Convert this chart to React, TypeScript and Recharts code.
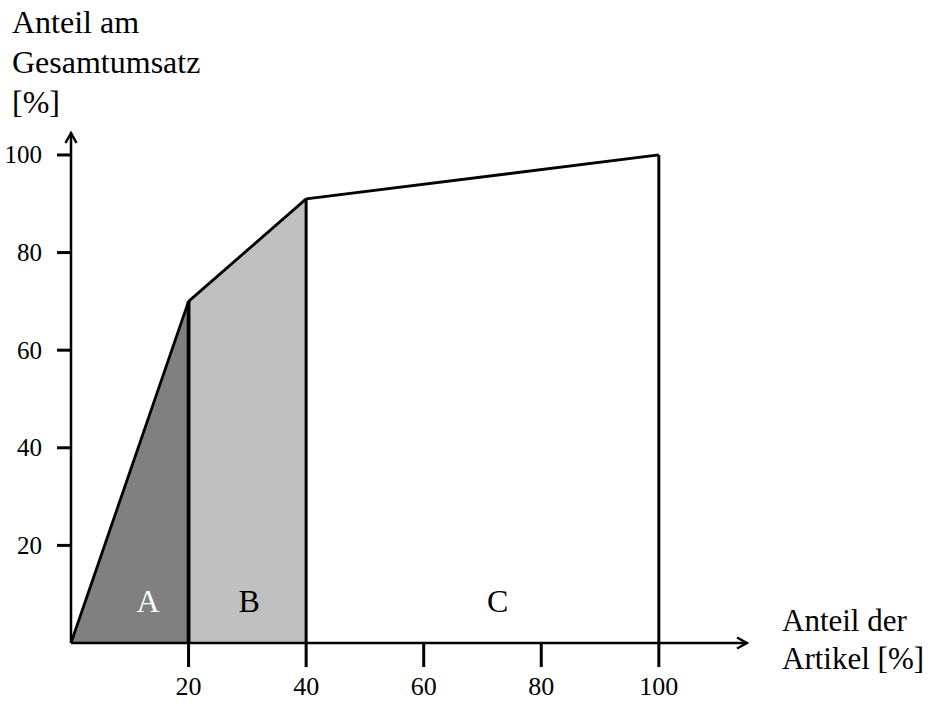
import {
  Area,
  ComposedChart,
  ReferenceDot,
  ReferenceLine,
  XAxis,
  YAxis,
} from "recharts";

// cumulative ABC curve
const SHARE_ARTICLES = [0, 20, 40, 100];
const SHARE_REVENUE = [0, 70, 91, 100];
const CLASSES = ["A", "B", "C"];
const CLASS_FILLS = ["#808080", "#c0c0c0", "#ffffff"];
const CLASS_TEXT = ["#ffffff", "#000000", "#000000"];
const X_TICKS = [20, 40, 60, 80, 100];
const Y_TICKS = [20, 40, 60, 80, 100];

const FONT = "'Liberation Serif', 'Times New Roman', serif";
const INK = "#000";

// one key per class, only filled inside the class bounds
const rows = SHARE_ARTICLES.map((x, i) => {
  const row: Record<string, number | null> = { x };
  CLASSES.forEach((c, k) => {
    const lo = SHARE_ARTICLES[k];
    const hi = SHARE_ARTICLES[k + 1];
    row[c] = x >= lo && x <= hi ? SHARE_REVENUE[i] : null;
  });
  return row;
});

// where the class letters sit (x, y in chart units)
const LETTER_POS = [
  [13.1, 8.6],
  [30.3, 8.6],
  [72.6, 8.6],
];

function XTick({ x, y, payload }: any) {
  return (
    <text x={x} y={y + 10} dy="0.71em" textAnchor="middle" fontFamily={FONT} fontSize={26} fill={INK}>
      {payload.value}
    </text>
  );
}

function YTick({ x, y, payload }: any) {
  return (
    <text x={x - 15} y={y} dy="0.34em" textAnchor="end" fontFamily={FONT} fontSize={25} fill={INK}>
      {payload.value}
    </text>
  );
}

export default function App() {
  return (
    <div style={{ position: "absolute", left: 0, top: 0, width: 934, height: 706, background: "#fff", fontFamily: FONT }}>
      <ComposedChart
        width={934}
        height={706}
        data={rows}
        margin={{ top: 133, right: 187, bottom: 23, left: 0 }}
      >
        <defs>
          <marker
            id="arrowHead"
            viewBox="0 0 14 14"
            refX="12"
            refY="7"
            markerWidth="14"
            markerHeight="14"
            markerUnits="userSpaceOnUse"
            orient="auto-start-reverse"
          >
            <path d="M2,1.5 L12,7 L2,12.5" fill="none" stroke={INK} strokeWidth={2.4} />
          </marker>
        </defs>
        <XAxis
          type="number"
          dataKey="x"
          domain={[0, 115]}
          ticks={X_TICKS}
          interval={0}
          height={40}
          tickSize={24}
          tickMargin={0}
          tickLine={{ stroke: INK, strokeWidth: 3 }}
          axisLine={{ stroke: INK, strokeWidth: 2.5, markerEnd: "url(#arrowHead)" }}
          tick={<XTick />}
        />
        <YAxis
          type="number"
          domain={[0, 104.5]}
          ticks={Y_TICKS}
          interval={0}
          width={71}
          tickSize={14}
          tickMargin={0}
          tickLine={{ stroke: INK, strokeWidth: 3 }}
          axisLine={{ stroke: INK, strokeWidth: 2.5, markerStart: "url(#arrowHead)" }}
          tick={<YTick />}
        />
        {CLASSES.map((c, k) => (
          <Area
            key={c}
            type="linear"
            dataKey={c}
            fill={CLASS_FILLS[k]}
            fillOpacity={1}
            stroke={INK}
            strokeWidth={2.8}
            connectNulls={false}
            dot={false}
            activeDot={false}
            isAnimationActive={false}
          />
        ))}
        {SHARE_ARTICLES.slice(1).map((x, k) => (
          <ReferenceLine
            key={x}
            segment={[
              { x, y: 0 },
              { x, y: SHARE_REVENUE[k + 1] },
            ]}
            stroke={INK}
            strokeWidth={k === 0 ? 3.8 : 3}
          />
        ))}
        {CLASSES.map((c, k) => (
          <ReferenceDot
            key={`lbl-${c}`}
            x={LETTER_POS[k][0]}
            y={LETTER_POS[k][1]}
            r={0}
            fill="none"
            stroke="none"
            label={{ value: c, position: "center", fill: CLASS_TEXT[k], fontSize: 32, fontFamily: FONT }}
          />
        ))}
      </ComposedChart>

      <div style={{ position: "absolute", left: 12, top: 2, fontSize: 32, lineHeight: "40px", color: INK }}>
        Anteil am
        <br />
        Gesamtumsatz
        <br />
        [%]
      </div>
      <div style={{ position: "absolute", left: 782, top: 602, fontSize: 31, lineHeight: "38px", color: INK, whiteSpace: "nowrap" }}>
        Anteil der
        <br />
        Artikel [%]
      </div>
    </div>
  );
}
